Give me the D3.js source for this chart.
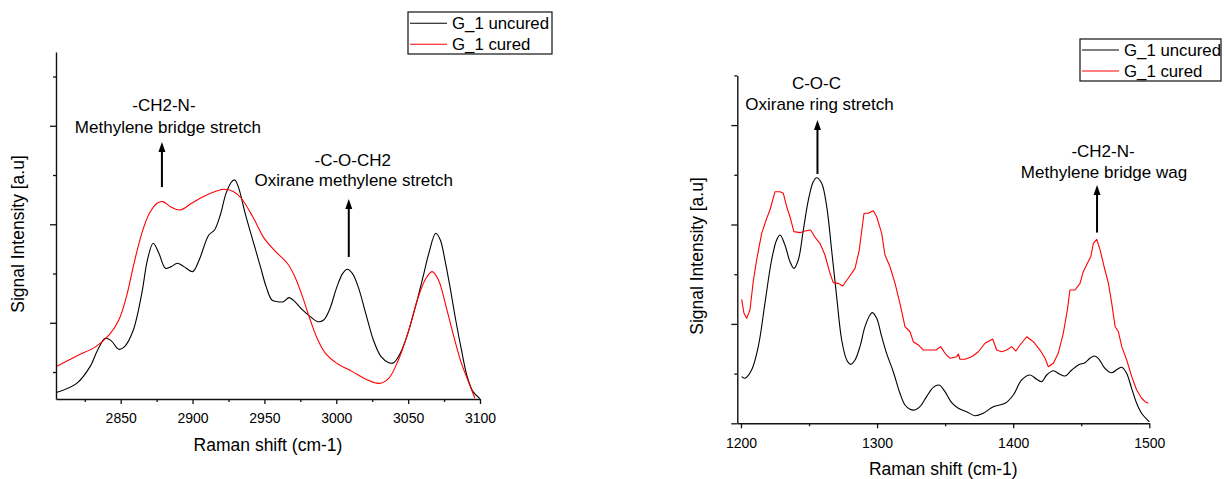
<!DOCTYPE html>
<html>
<head>
<meta charset="utf-8">
<script src="https://cdn.jsdelivr.net/npm/d3@7"></script>
<style>
  html, body { margin: 0; padding: 0; background: #fff; }
  svg { display: block; }
  text { font-family: Arial, "Liberation Sans", sans-serif; fill: #000; }
</style>
</head>
<body>
<svg id="chart" width="1224" height="479"></svg>
<script>
// ---------------- DATA ----------------
const seriesNames = ["G_1 uncured", "G_1 cured"];

// Left panel (high wavenumber region)
const leftUncuredX = [2805.2,2819.4,2828.7,2834,2839.3,2843.3,2848.7,2852.7,2858.8,2864.7,2868.6,2872.6,2876.6,2881.2,2885.2,2889.4,2894,2900.1,2904.6,2911.3,2915.3,2919.3,2923.3,2927.3,2929.4,2931.8,2936.6,2941.9,2947.2,2951.2,2955.2,2959.2,2963.2,2967.2,2971.2,2976.5,2981.9,2987.2,2991.2,2995.2,3000.5,3004.5,3007.7,3011.2,3015.2,3020.5,3025.8,3031.2,3036.5,3040,3044.5,3049.8,3055.1,3060.4,3064.4,3069.2,3072.4,3075.6,3079.1,3083.1,3087.1,3091.1,3095.1,3100];
const leftUncuredY = [291,385,555,724,842,819,731,758,927,1299,1637,1807,1705,1553,1570,1604,1570,1519,1637,1891,1942,2094,2314,2433,2450,2382,2111,1840,1570,1367,1231,1214,1214,1255,1214,1130,1062,1011,1028,1130,1367,1502,1543,1502,1367,1096,825,656,595,595,690,893,1164,1468,1705,1908,1840,1637,1367,1028,724,453,301,230];
const leftCuredX = [2805.2,2819.4,2832.7,2842,2848.7,2854,2859.3,2864.7,2870,2875.3,2879.3,2884.6,2891.3,2899.3,2907.3,2915.3,2921.9,2928.6,2933.9,2941.9,2949.9,2957.9,2965.9,2971.2,2976.5,2981.9,2987.2,2992.5,3000.5,3011.2,3021.8,3029.8,3036.5,3043.2,3049.8,3056.4,3061.8,3066.6,3071.1,3076.4,3081.8,3087.1,3092.4,3096.4];
const leftCuredY = [555,663,758,876,1028,1265,1604,1908,2111,2213,2230,2179,2145,2213,2280,2331,2355,2331,2264,2077,1857,1722,1604,1468,1265,1028,825,690,588,504,419,385,436,622,893,1231,1435,1519,1435,1164,859,588,385,233];

// Right panel (fingerprint region)
const rightUncuredX = [1200.5,1202.9,1207.8,1212.7,1217.6,1222.5,1226.2,1228.7,1232.3,1236,1238.9,1242.1,1245.8,1249.5,1253.1,1255.6,1259.3,1263,1266.6,1270.3,1274,1277.7,1280.6,1283.8,1287.4,1291.1,1294.8,1296.5,1299.7,1303.4,1307,1311.9,1316.8,1320.5,1324.2,1327.8,1331.5,1336.4,1341.3,1345.5,1349.9,1354.8,1359.7,1365.8,1372,1378,1385.4,1394,1400.1,1406.2,1412.3,1417.3,1421,1424.6,1429.5,1433.9,1438.1,1443,1447.9,1452.8,1456.4,1459.4,1462.5,1467.4,1472.4,1476.5,1479.7,1483.3,1487,1490.7,1494.3,1499.2,1500];
const rightUncuredY = [469,453,536,771,1207,1643,1844,1894,1794,1626,1559,1643,1945,2246,2431,2471,2414,2179,1743,1274,838,637,593,637,771,972,1090,1113,1056,871,704,519,302,184,141,134,167,268,362,385,318,207,151,117,76,101,167,201,285,436,486,443,419,486,529,496,476,536,587,610,654,677,654,553,509,543,563,503,352,201,101,26,15];
const rightCuredX = [1200.5,1202.2,1204.2,1206.6,1209,1211.5,1215.2,1218.9,1221.3,1225,1228.7,1231.1,1233.6,1236,1238.9,1243.4,1247,1251.2,1254.4,1258,1261.7,1265.4,1267.8,1271.5,1274.7,1278.8,1283.8,1286.9,1290.4,1293.5,1297.2,1299.7,1303.4,1305.8,1309.5,1313.2,1316.8,1320.5,1324.2,1326.6,1330.3,1334,1338.9,1343.3,1346.7,1349.9,1353.6,1358.5,1359.7,1360.9,1364.6,1369.5,1374.4,1379.3,1384.9,1387.9,1391.5,1395.2,1398.9,1402,1405,1409.9,1414.8,1419.7,1423.4,1425.8,1429.5,1433.1,1436.8,1439.8,1441.7,1445.4,1449.1,1451.5,1454.5,1457,1458.9,1461.4,1463.9,1466.8,1470,1472.4,1474.9,1477.3,1479.8,1483.4,1487.1,1490.7,1494.4,1496.9,1499.3];
const rightCuredY = [1247,1107,1056,1140,1425,1643,1911,2062,2146,2330,2330,2314,2179,2078,1928,1918,1935,1945,1871,1811,1693,1509,1415,1408,1381,1459,1559,1743,2113,2113,2139,2078,1911,1693,1575,1408,1207,972,921,821,788,737,737,737,771,704,654,670,697,644,644,670,720,805,848,737,720,737,771,727,788,871,821,737,654,569,604,704,905,1140,1341,1341,1408,1525,1610,1676,1811,1851,1743,1575,1408,1207,972,921,771,637,469,335,252,217,201];

// Tick values
const leftXMajor = [2850, 2900, 2950, 3000, 3050, 3100];
const leftXMinor = [2825, 2875, 2925, 2975, 3025, 3075];
const rightXMajor = [1200, 1300, 1400, 1500];
const rightXMinor = [1250, 1350, 1450];
const leftYMajor = [1000, 2000, 3000];
const leftYMinor = [500, 1500, 2500, 3500];
const rightYMajor = [0, 1000, 2000, 3000];
const rightYMinor = [500, 1500, 2500, 3500];

// Annotations: arrow at wavenumber, from/to intensity, label lines
const leftNotes = [
  { x: 2878.7, from: 2378, to: 2835, lines: ["-CH2-N-", "Methylene bridge stretch"] },
  { x: 3008.7, from: 1668, to: 2256, lines: ["-C-O-CH2", "Oxirane methylene stretch"] }
];
const rightNotes = [
  { x: 1256.2, from: 2508, to: 3051, lines: ["C-O-C", "Oxirane ring stretch"] },
  { x: 1461.6, from: 1919, to: 2398, lines: ["-CH2-N-", "Methylene bridge wag"] }
];

// ---------------- DRAW ----------------
const svg = d3.select("#chart");
const colors = ["#000000", "#ff0000"];

function panel(cfg) {
  const g = svg.append("g");
  const x = d3.scaleLinear().domain(cfg.xDomain).range([cfg.left, cfg.right]);
  const y = d3.scaleLinear().domain(cfg.yDomain).range([cfg.bottom, cfg.top]);

  // curves
  cfg.series.forEach((s, i) => {
    const pts = d3.zip(s.x, s.y);
    const line = d3.line()
      .x(d => x(d[0])).y(d => y(d[1]))
      .curve(s.curve);
    g.append("path")
      .attr("d", line(pts))
      .attr("fill", "none")
      .attr("stroke", colors[i])
      .attr("stroke-width", 1.1)
      .attr("stroke-linejoin", "round");
  });

  // x axis
  const xMinor = g.append("g").attr("transform", `translate(0,${cfg.bottom})`)
    .call(d3.axisBottom(x).tickValues(cfg.xMinor).tickSize(3).tickFormat(""));
  xMinor.select(".domain").remove();
  const xAx = g.append("g").attr("transform", `translate(0,${cfg.bottom})`)
    .call(d3.axisBottom(x).tickValues(cfg.xMajor).tickSize(5).tickSizeOuter(0)
      .tickPadding(cfg.xPad).tickFormat(d3.format("d")));
  xAx.selectAll("text").style("font-size", "14px")
    .style("font-family", "Arial, 'Liberation Sans', sans-serif");

  // y axis
  const yMinor = g.append("g").attr("transform", `translate(${cfg.left},0)`)
    .call(d3.axisLeft(y).tickValues(cfg.yMinor).tickSize(3).tickFormat(""));
  yMinor.select(".domain").remove();
  const yAx = g.append("g").attr("transform", `translate(${cfg.left},0)`)
    .call(d3.axisLeft(y).tickValues(cfg.yMajor).tickSize(6).tickSizeOuter(0).tickFormat(""));

  g.selectAll(".domain").attr("stroke", "#111").attr("stroke-width", 1.4);
  g.selectAll(".tick line").attr("stroke", "#111").attr("stroke-width", 1.3);

  // axis titles
  g.append("text")
    .attr("x", (cfg.left + cfg.right) / 2).attr("y", cfg.xTitleY)
    .attr("text-anchor", "middle").style("font-size", "17.5px")
    .text("Raman shift (cm-1)");
  g.append("text")
    .attr("transform", `translate(${cfg.yTitleX},${cfg.yTitleCy}) rotate(-90)`)
    .attr("text-anchor", "middle").style("font-size", "17.5px")
    .text("Signal Intensity [a.u]");

  // annotations
  cfg.notes.forEach((n, k) => {
    const ax = x(n.x), y0 = y(n.from), y1 = y(n.to);
    g.append("line")
      .attr("x1", ax).attr("x2", ax).attr("y1", y0).attr("y2", y1 + 8)
      .attr("stroke", "#000").attr("stroke-width", 2);
    g.append("path")
      .attr("d", `M${ax},${y1} L${ax - 3.5},${y1 + 10} L${ax + 3.5},${y1 + 10} Z`)
      .attr("fill", "#000");
    const off = cfg.noteOffsets[k];
    n.lines.forEach((t, j) => {
      g.append("text")
        .attr("x", ax + off.dx[j]).attr("y", y1 + off.dy[j])
        .attr("text-anchor", "middle").style("font-size", "17px")
        .text(t);
    });
  });

  // legend
  const L = cfg.legend;
  const lg = g.append("g");
  lg.append("rect").attr("x", L.x).attr("y", L.y).attr("width", L.w).attr("height", L.h)
    .attr("fill", "#fff").attr("stroke", "#111").attr("stroke-width", 1.2);
  seriesNames.forEach((name, i) => {
    const ry = L.y + L.rows[i];
    lg.append("line").attr("x1", L.x + 2).attr("x2", L.x + 39)
      .attr("y1", ry).attr("y2", ry).attr("stroke", colors[i]).attr("stroke-width", 1.1);
    lg.append("text").attr("x", L.x + 44).attr("y", ry + 5.9)
      .style("font-size", "16.8px").text(name);
  });
}

panel({
  xDomain: [2805, 3100], yDomain: [226, 3749],
  left: 56, right: 480, top: 52, bottom: 399,
  xMajor: leftXMajor, xMinor: leftXMinor, yMajor: leftYMajor, yMinor: leftYMinor,
  xPad: 9,
  series: [
    { x: leftUncuredX, y: leftUncuredY, curve: d3.curveCatmullRom.alpha(0.5) },
    { x: leftCuredX, y: leftCuredY, curve: d3.curveCatmullRom.alpha(0.5) }
  ],
  xTitleY: 451, yTitleX: 24, yTitleCy: 234,
  notes: leftNotes,
  noteOffsets: [ { dx: [2, 6], dy: [-31, -9.5] }, { dx: [4, 5], dy: [-33.5, -13] } ],
  legend: { x: 408, y: 12, w: 144, h: 42, rows: [11.3, 32.3] }
});

panel({
  xDomain: [1197.3, 1500], yDomain: [0, 3500],
  left: 737.3, right: 1149.3, top: 75.4, bottom: 423.3,
  xMajor: rightXMajor, xMinor: rightXMinor, yMajor: rightYMajor, yMinor: rightYMinor,
  xPad: 10,
  series: [
    { x: rightUncuredX, y: rightUncuredY, curve: d3.curveCatmullRom.alpha(0.5) },
    { x: rightCuredX, y: rightCuredY, curve: d3.curveLinear }
  ],
  xTitleY: 475, yTitleX: 703, yTitleCy: 256,
  notes: rightNotes,
  noteOffsets: [ { dx: [-1, 2], dy: [-30.7, -10] }, { dx: [6, 7], dy: [-27.5, -6.7] } ],
  legend: { x: 1080, y: 39, w: 141, h: 42, rows: [11, 32] }
});
</script>
</body>
</html>
